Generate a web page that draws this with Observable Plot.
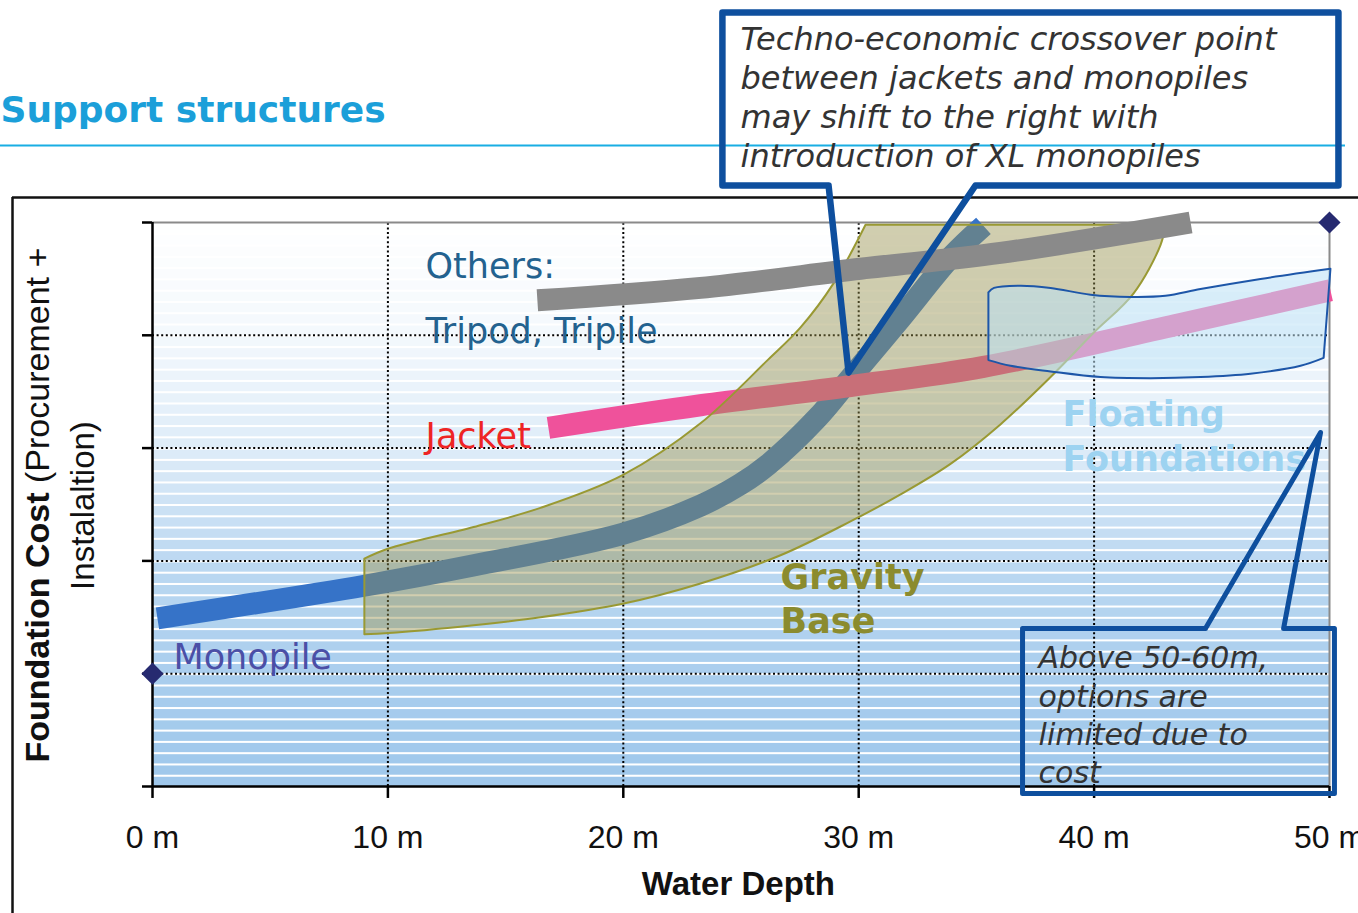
<!DOCTYPE html>
<html><head><meta charset="utf-8">
<script src="https://cdn.jsdelivr.net/npm/d3@7"></script>
<script src="https://cdn.jsdelivr.net/npm/@observablehq/plot@0.6"></script>
<style>html,body{margin:0;padding:0;background:#fff;overflow:hidden}</style>
</head><body><div id="chart"></div>
<script>
// ---- data (water depth in m, relative cost units 0..5) ----
const xTicks = [0, 10, 20, 30, 40, 50];
const xTickLabels = ["0 m", "10 m", "20 m", "30 m", "40 m", "50 m"];
const yTicks = [0, 1, 2, 3, 4, 5];

const monopileDepth = [0.21, 9.0, 13.64, 19.97, 23.28, 24.98, 26.13, 28.25, 29.65, 31.78, 33.9, 35.3];
const monopileCost  = [1.49, 1.78, 1.96, 2.24, 2.49, 2.68, 2.85, 3.27, 3.62, 4.15, 4.69, 4.97];

const jacketDepth = [16.82, 23.28, 29.65, 35.3, 43.67, 50.04];
const jacketCost  = [3.18, 3.38, 3.55, 3.72, 4.10, 4.40];

const othersDepth = [16.35, 23.28, 30.08, 36.02, 44.1];
const othersCost  = [4.31, 4.42, 4.59, 4.73, 5.0];

// outline of the gravity-base band (corner points repeated to keep corners sharp)
const gravityDepth = [9.0, 9.0, 10.03, 13.64, 16.48, 19.97, 23.28, 26.13, 27.53, 28.93, 30.29, 30.29,
  43.03, 43.03, 42.82, 41.67, 39.97, 38.15, 36.02, 33.9, 31.78, 29.65, 26.68, 23.28, 19.97, 16.48, 13.64, 10.03, 9.0, 9.0];
const gravityCost = [2.02, 2.02, 2.11, 2.30, 2.47, 2.76, 3.22, 3.78, 4.07, 4.46, 4.98, 4.98,
  4.98, 4.98, 4.80, 4.37, 4.02, 3.63, 3.21, 2.86, 2.59, 2.35, 2.05, 1.80, 1.62, 1.50, 1.43, 1.36, 1.35, 1.35];

// outline of the floating-foundations zone
const floatingDepth = [35.51, 35.51, 35.75, 36.87, 38.15, 39.85, 41.55, 43.03, 44.52, 47.07, 50.04, 50.04,
  49.75, 49.75, 48.77, 46.64, 44.52, 42.40, 40.27, 38.15, 36.45, 35.51, 35.51];
const floatingCost = [4.38, 4.38, 4.42, 4.44, 4.42, 4.36, 4.34, 4.35, 4.41, 4.50, 4.59, 4.59,
  3.80, 3.80, 3.73, 3.66, 3.63, 3.62, 3.63, 3.68, 3.73, 3.78, 3.78];

const markers = [[0, 1], [50, 5]];

// callout outlines (box + pointer), in chart units
const callout1 = [[28.72, 5.328], [24.21, 5.328], [24.21, 6.862], [50.38, 6.862], [50.38, 5.328], [34.96, 5.328], [29.57, 3.67], [28.72, 5.328]];
const callout2 = [[44.73, 1.401], [36.96, 1.401], [36.96, -0.062], [50.21, -0.062], [50.21, 1.401], [48.05, 1.401], [49.62, 3.138], [44.73, 1.401]];

const callout1Text = "Techno-economic crossover point\nbetween jackets and monopiles\nmay shift to the right with\nintroduction of XL monopiles";
const callout2Text = "Above 50-60m,\noptions are\nlimited due to\ncost";

// ---- build tables ----
const zip = (a, b) => a.map((v, i) => ({x: v, y: b[i]}));
const monopile = zip(monopileDepth, monopileCost);
const jacket = zip(jacketDepth, jacketCost);
const others = zip(othersDepth, othersCost);
const gravity = zip(gravityDepth, gravityCost);
const floating = zip(floatingDepth, floatingCost);

// background stripes (decoration)
const stripes = d3.range(0, 5, 0.1);
const fade = d3.scaleLinear().domain([0, 1, 2, 3, 4, 5]).range([0, 0.12, 0.31, 0.66, 0.88, 1]).clamp(true);
const bgCol = d => d3.interpolateRgb("#9ec7eb", "#ffffff")(fade(d + 0.05));

// width of bold part of y label, to place the regular part right after it
const ctx = document.createElement("canvas").getContext("2d");
ctx.font = "bold 34px 'Liberation Sans'";
const boldW = ctx.measureText("Foundation Cost").width;
ctx.font = "34px 'Liberation Sans'";
const spaceW = ctx.measureText(" ").width;

const txt = (s, o) => Plot.text([s], {text: d => d, lineAnchor: "bottom", ...o});

const chart = Plot.plot({
  width: 1358, height: 913,
  marginLeft: 152, marginRight: 29, marginTop: 222, marginBottom: 127,
  x: {domain: [0, 50], axis: null},
  y: {domain: [0, 5], axis: null},
  color: {type: "identity"},
  style: {fontFamily: "DejaVu Sans", background: "white"},
  marks: [
    Plot.rect(stripes, {x1: 0, x2: 50, y1: d => d, y2: d => d + 0.082, fill: d => bgCol(d)}),
    // grid
    Plot.ruleX([10, 20, 30, 40], {y1: 0, y2: 5, stroke: "#000", strokeWidth: 2, strokeDasharray: "2,2.6"}),
    Plot.ruleY([1, 2, 3, 4], {x1: 0, x2: 50, stroke: "#000", strokeWidth: 2, strokeDasharray: "2,2.6"}),
    // frame top/right
    Plot.ruleY([5], {x1: 0, x2: 50, stroke: "#8a8a8a", strokeWidth: 2}),
    Plot.ruleX([50], {y1: 0, y2: 5, stroke: "#8a8a8a", strokeWidth: 2}),
    // series
    Plot.line(monopile, {x: "x", y: "y", stroke: "#3673c8", strokeWidth: 22, curve: "catmull-rom", strokeLinecap: "butt"}),
    Plot.line(jacket, {x: "x", y: "y", stroke: "#ef529b", strokeWidth: 22, curve: "catmull-rom", strokeLinecap: "butt"}),
    Plot.line(gravity, {x: "x", y: "y", fill: "#9a924e", fillOpacity: 0.45, stroke: "#999933", strokeWidth: 2, curve: "catmull-rom-closed"}),
    Plot.line(floating, {x: "x", y: "y", fill: "#bee2f5", fillOpacity: 0.55, stroke: "#1d56a8", strokeWidth: 2, curve: "catmull-rom-closed"}),
    Plot.line(others, {x: "x", y: "y", stroke: "#8a8a8a", strokeWidth: 22, curve: "catmull-rom", strokeLinecap: "butt"}),
    // axes
    Plot.ruleX([0], {y1: 0, y2: 5, stroke: "#000", strokeWidth: 2.5}),
    Plot.ruleY([0], {x1: 0, x2: 50, stroke: "#000", strokeWidth: 2.5}),
    Plot.ruleY(yTicks, {x1: -0.425, x2: 0, stroke: "#000", strokeWidth: 2.5}),
    Plot.ruleX(xTicks, {y1: -0.106, y2: 0, stroke: "#000", strokeWidth: 2.5}),
    Plot.text(xTicks, {x: d => d, y: -0.5496, text: (d, i) => xTickLabels[i], lineAnchor: "bottom", fontFamily: "Liberation Sans", fontSize: 32, fill: "#111"}),
    txt("Water Depth", {x: 24.89, y: -0.966, fontFamily: "Liberation Sans", fontWeight: "bold", fontSize: 33, fill: "#111"}),
    Plot.text(["Foundation Cost"], {text: d => d, x: -4.843, y: 0.213, rotate: -90, textAnchor: "start", fontFamily: "Liberation Sans", fontWeight: "bold", fontSize: 34, fill: "#111"}),
    Plot.text(["(Procurement +"], {text: d => d, x: -4.843, y: 0.213, dy: -(boldW + spaceW), rotate: -90, textAnchor: "start", fontFamily: "Liberation Sans", fontSize: 34, fill: "#111"}),
    Plot.text(["Instalaltion)"], {text: d => d, x: -2.931, y: 2.491, rotate: -90, fontFamily: "Liberation Sans", fontSize: 33, fill: "#111"}),
    // markers
    Plot.dot(markers, {x: d => d[0], y: d => d[1], symbol: "diamond2", r: 10, fill: "#262a70", stroke: "none"}),
    // series labels
    txt("Others:\nTripod, Tripile", {x: 11.6, y: 3.936, textAnchor: "start", fontSize: 35, lineHeight: 1.857, fill: "#23628f"}),
    txt("Jacket", {x: 11.6, y: 3.005, textAnchor: "start", fontSize: 35, fill: "#ee2424"}),
    txt("Monopile", {x: 0.892, y: 1.046, textAnchor: "start", fontSize: 35, fill: "#4b4fa6"}),
    txt("Gravity\nBase", {x: 26.68, y: 1.365, textAnchor: "start", fontSize: 35, fontWeight: "bold", lineHeight: 1.257, fill: "#8b8b2e"}),
    txt("Floating\nFoundations", {x: 38.66, y: 2.801, textAnchor: "start", fontSize: 35, fontWeight: "bold", lineHeight: 1.286, fill: "#9dd3f1"}),
    // header
    txt("Support structures", {x: -6.457, y: 5.895, textAnchor: "start", fontSize: 36, fontWeight: "bold", fill: "#1b9fd9"}),
    Plot.ruleY([5.683], {x1: -6.457, x2: 50.68, stroke: "#19aee3", strokeWidth: 2}),
    // outer frame
    Plot.ruleX([-5.947], {y1: -1.2, y2: 5.222, stroke: "#111", strokeWidth: 2.5}),
    Plot.ruleY([5.222], {x1: -5.947, x2: 51.3, stroke: "#111", strokeWidth: 2.5}),
    // callouts
    Plot.line(callout1, {x: d => d[0], y: d => d[1], stroke: "#0e4f9e", strokeWidth: 6.5, strokeLinejoin: "round", fill: "none"}),
    txt(callout1Text, {x: 24.98, y: 5.488, textAnchor: "start", fontSize: 32, fontStyle: "italic", lineHeight: 1.22, fill: "#333"}),
    Plot.line(callout2, {x: d => d[0], y: d => d[1], stroke: "#0e4f9e", strokeWidth: 5, strokeLinejoin: "round", fill: "none"}),
    txt(callout2Text, {x: 37.64, y: 0.0266, textAnchor: "start", fontSize: 30, fontStyle: "italic", lineHeight: 1.283, fill: "#333"})
  ]
});
document.getElementById("chart").appendChild(chart);
</script></body></html>
